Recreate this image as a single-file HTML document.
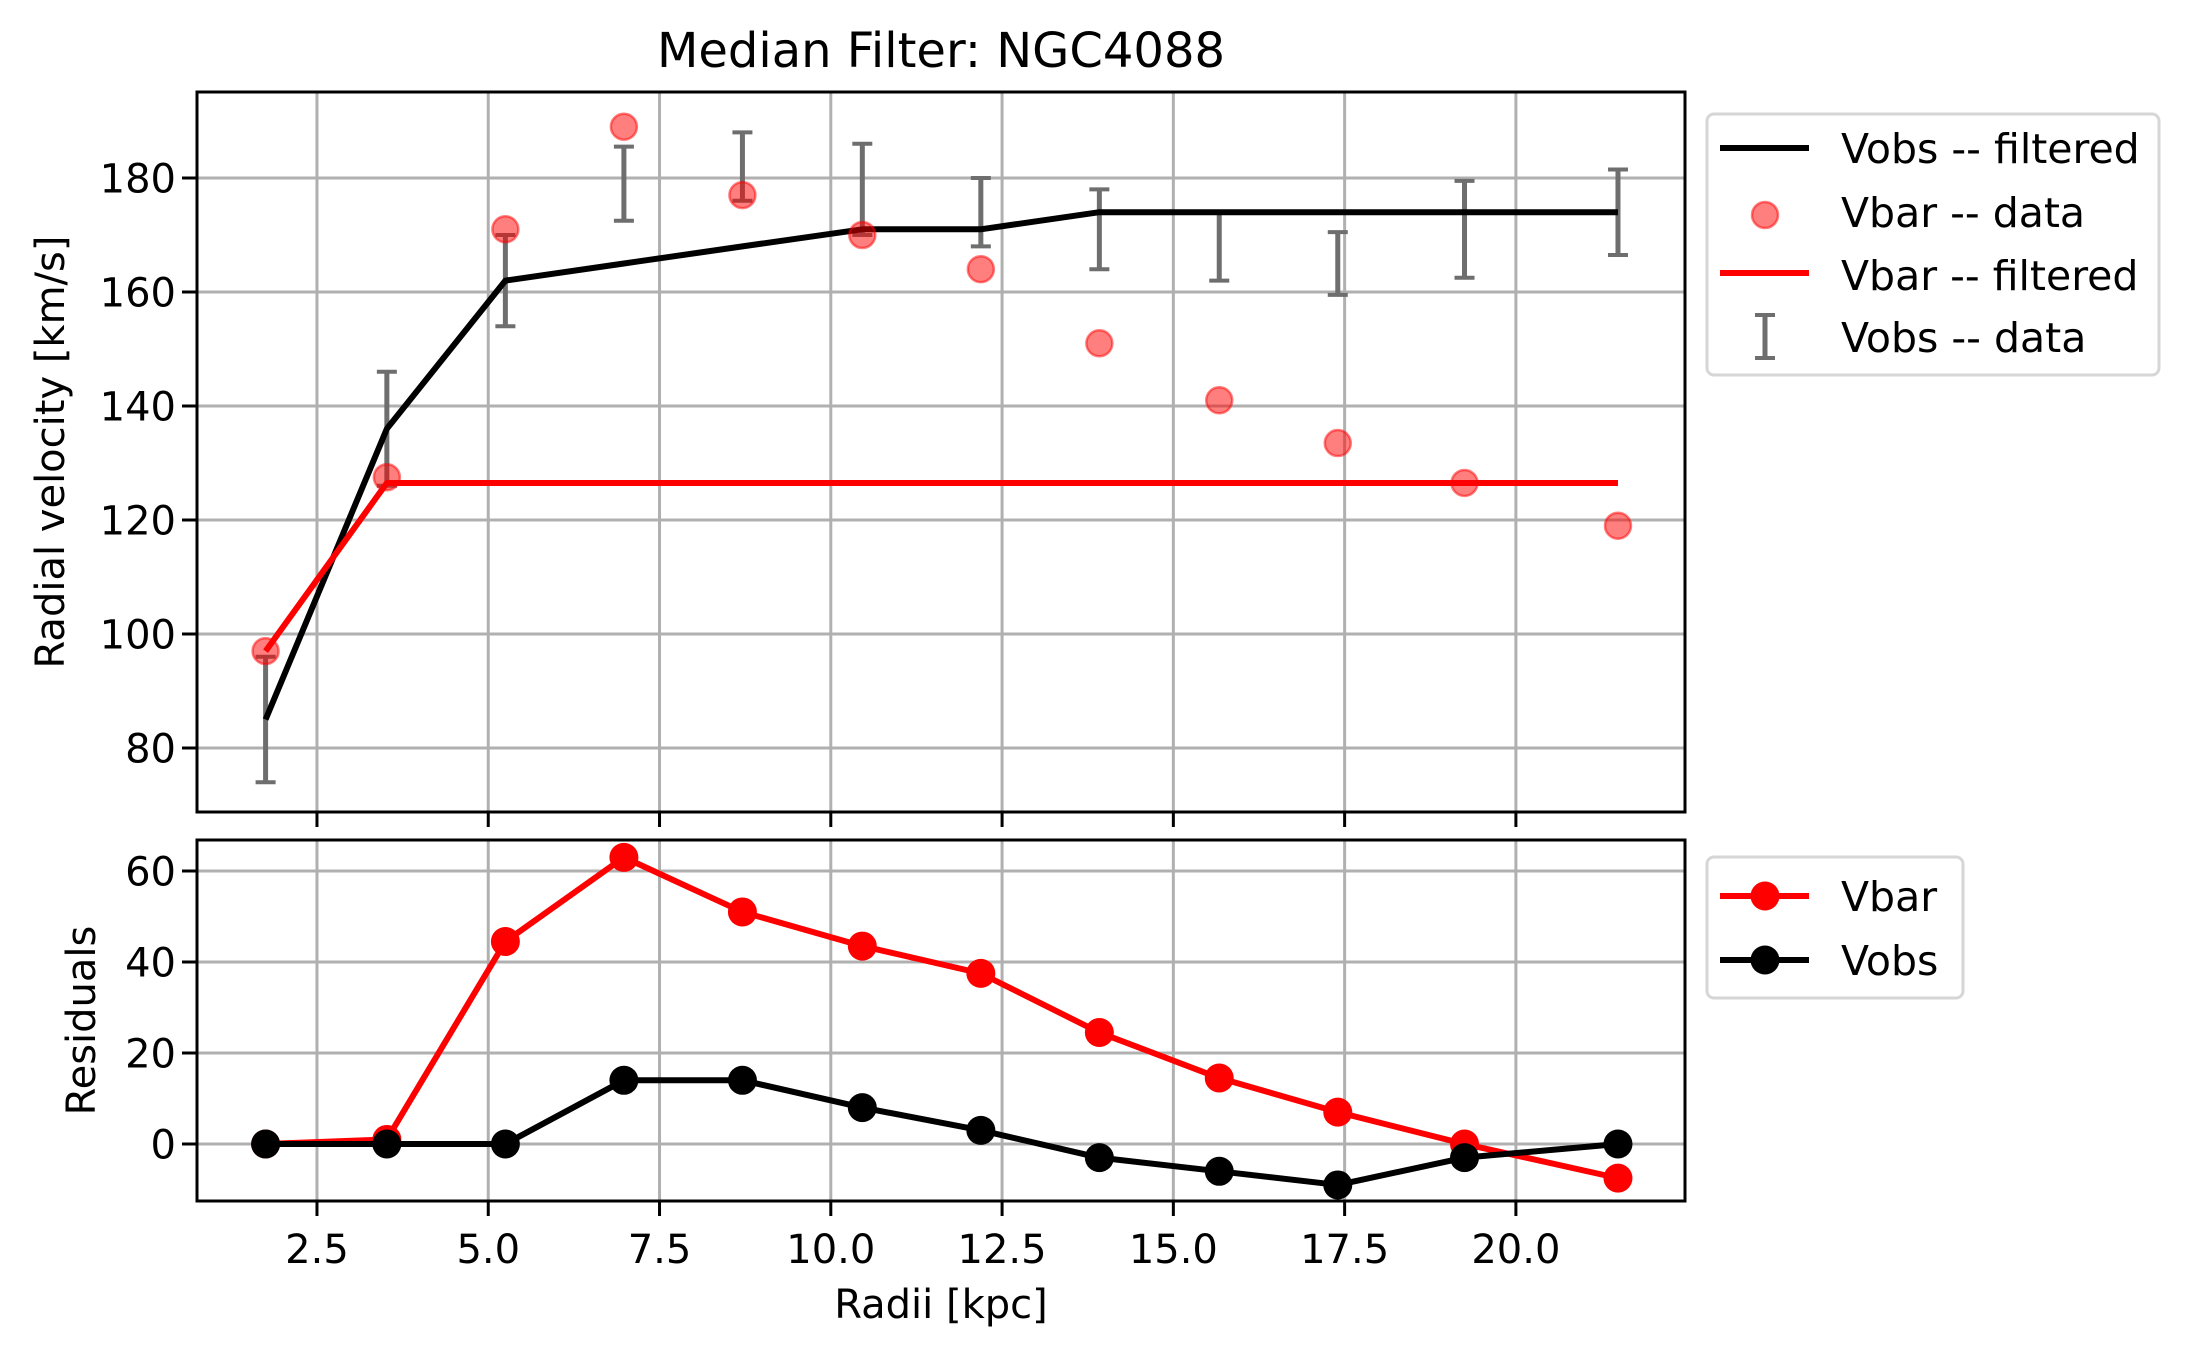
<!DOCTYPE html>
<html><head><meta charset="utf-8"><style>
html,body{margin:0;padding:0;background:#fff}
svg{display:block;font-family:"DejaVu Sans","Liberation Sans",sans-serif}
</style></head><body>
<svg id="chart" width="2189" height="1361" viewBox="0 0 2189 1361" xmlns="http://www.w3.org/2000/svg">
<g id="g"></g>
</svg>
<script>
const radii=[1.75,3.52,5.25,6.98,8.71,10.46,12.19,13.92,15.67,17.40,19.25,21.49];
const vobsFiltered=[85,136,162,165,168,171,171,174,174,174,174,174];
const vobsData=[85,136,162,179,182,178,174,171,168,165,171,174];
const vobsErr=[11,10,8,6.5,6,8,6,7,6,5.5,8.5,7.5];
const vbarData=[97,127.5,171,189,177,170,164,151,141,133.5,126.5,119];
const vbarFiltered=[97,126.5,126.5,126.5,126.5,126.5,126.5,126.5,126.5,126.5,126.5,126.5];
const resVbar=[0,1,44.5,63,51,43.5,37.5,24.5,14.5,7,0,-7.5];
const resVobs=[0,0,0,14,14,8,3,-3,-6,-9,-3,0];
const xTicks=[2.5,5.0,7.5,10.0,12.5,15.0,17.5,20.0];
const yTopTicks=[80,100,120,140,160,180];
const yBotTicks=[0,20,40,60];

const NS="http://www.w3.org/2000/svg";
const g=document.getElementById('g');
function el(t,a,txt,name){const e=document.createElementNS(NS,t);for(const k in a)e.setAttribute(k,a[k]);if(txt!==undefined)e.textContent=txt;


g.appendChild(e);return e;}
const L=197,R=1685,T1=92,B1=812,T2=840,B2=1201;
const X=v=>145.7+v*68.51;
const Y1=v=>178-(v-180)*5.7;
const Y2=v=>1144-v*4.55;
const FS=40;

el('text',{x:941,y:67,'text-anchor':'middle','font-size':48},'Median Filter: NGC4088','chart-title');
xTicks.forEach(t=>{
 el('line',{x1:X(t),x2:X(t),y1:T1,y2:B1,stroke:'#b0b0b0','stroke-width':3},undefined,'x-grid-top');
 el('line',{x1:X(t),x2:X(t),y1:T2,y2:B2,stroke:'#b0b0b0','stroke-width':3},undefined,'x-grid-bottom');
 el('line',{x1:X(t),x2:X(t),y1:B1,y2:B1+15,stroke:'#000','stroke-width':3},undefined,'x-tick-top');
 el('line',{x1:X(t),x2:X(t),y1:B2,y2:B2+15,stroke:'#000','stroke-width':3},undefined,'x-tick');
 el('text',{x:X(t),y:1263,'text-anchor':'middle','font-size':FS},t.toFixed(1),'x-tick-label');
});
yTopTicks.forEach(t=>{
 el('line',{x1:L,x2:R,y1:Y1(t),y2:Y1(t),stroke:'#b0b0b0','stroke-width':3},undefined,'y-grid-top');
 el('line',{x1:L-15,x2:L,y1:Y1(t),y2:Y1(t),stroke:'#000','stroke-width':3},undefined,'y-tick-top');
 el('text',{x:L-21,y:Y1(t)+14.5,'text-anchor':'end','font-size':FS},t,'y-tick-label-top');
});
yBotTicks.forEach(t=>{
 el('line',{x1:L,x2:R,y1:Y2(t),y2:Y2(t),stroke:'#b0b0b0','stroke-width':3},undefined,'y-grid-bottom');
 el('line',{x1:L-15,x2:L,y1:Y2(t),y2:Y2(t),stroke:'#000','stroke-width':3},undefined,'y-tick-bottom');
 el('text',{x:L-21,y:Y2(t)+14.5,'text-anchor':'end','font-size':FS},t,'y-tick-label-bottom');
});
el('text',{x:64,y:(T1+B1)/2,'text-anchor':'middle','font-size':FS,transform:`rotate(-90 64 ${(T1+B1)/2})`},'Radial velocity [km/s]','y-axis-title-top');
el('text',{x:95,y:(T2+B2)/2,'text-anchor':'middle','font-size':FS,transform:`rotate(-90 95 ${(T2+B2)/2})`},'Residuals','y-axis-title-bottom');
el('text',{x:941,y:1318,'text-anchor':'middle','font-size':FS},'Radii [kpc]','x-axis-title');

const pts=(ys,Y)=>radii.map((r,i)=>X(r)+','+Y(ys[i])).join(' ');
radii.forEach((r,i)=>{
 const a=Y1(vobsData[i]-vobsErr[i]),b=Y1(vobsData[i]+vobsErr[i]),x=X(r);
 el('line',{x1:x,x2:x,y1:a,y2:b,stroke:'#6e6e6e','stroke-width':5},undefined,'vobs-errorbar');
 el('line',{x1:x-10,x2:x+10,y1:a,y2:a,stroke:'#6e6e6e','stroke-width':4},undefined,'vobs-errorcap');
 el('line',{x1:x-10,x2:x+10,y1:b,y2:b,stroke:'#6e6e6e','stroke-width':4},undefined,'vobs-errorcap');
});
el('polyline',{points:pts(vobsFiltered,Y1),fill:'none',stroke:'#000','stroke-width':6,'stroke-linejoin':'round'},undefined,'vobs-filtered-line');
el('polyline',{points:pts(vbarFiltered,Y1),fill:'none',stroke:'#f00','stroke-width':6,'stroke-linejoin':'round'},undefined,'vbar-filtered-line');
radii.forEach((r,i)=>el('circle',{cx:X(r),cy:Y1(vbarData[i]),r:13,fill:'rgba(255,0,0,0.5)',stroke:'rgba(255,0,0,0.5)','stroke-width':2.5},undefined,'vbar-data-point'));

el('polyline',{points:pts(resVbar,Y2),fill:'none',stroke:'#f00','stroke-width':6,'stroke-linejoin':'round'},undefined,'residual-vbar-line');
radii.forEach((r,i)=>el('circle',{cx:X(r),cy:Y2(resVbar[i]),r:14.5,fill:'#f00'},undefined,'residual-vbar-point'));
el('polyline',{points:pts(resVobs,Y2),fill:'none',stroke:'#000','stroke-width':6,'stroke-linejoin':'round'},undefined,'residual-vobs-line');
radii.forEach((r,i)=>el('circle',{cx:X(r),cy:Y2(resVobs[i]),r:14.5,fill:'#000'},undefined,'residual-vobs-point'));

el('rect',{x:L,y:T1,width:R-L,height:B1-T1,fill:'none',stroke:'#000','stroke-width':3},undefined,'top-axes-frame');
el('rect',{x:L,y:T2,width:R-L,height:B2-T2,fill:'none',stroke:'#000','stroke-width':3},undefined,'bottom-axes-frame');

el('rect',{x:1707,y:114,width:452,height:261,rx:7,fill:'#fff',stroke:'#d6d6d6','stroke-width':3},undefined,'top-legend');
el('line',{x1:1720,x2:1809,y1:148,y2:148,stroke:'#000','stroke-width':6},undefined,'legend-vobs-filtered-line');
el('text',{x:1841,y:163,'font-size':41},'Vobs -- filtered','legend-vobs-filtered');
el('circle',{cx:1765,cy:215,r:13,fill:'rgba(255,0,0,0.5)',stroke:'rgba(255,0,0,0.5)','stroke-width':2.5},undefined,'legend-vbar-data-marker');
el('text',{x:1841,y:227,'font-size':41},'Vbar -- data','legend-vbar-data');
el('line',{x1:1720,x2:1809,y1:273,y2:273,stroke:'#f00','stroke-width':6},undefined,'legend-vbar-filtered-line');
el('text',{x:1841,y:290,'font-size':41},'Vbar -- filtered','legend-vbar-filtered');
el('line',{x1:1765,x2:1765,y1:315,y2:358,stroke:'#6e6e6e','stroke-width':5},undefined,'legend-vobs-data-bar');
el('line',{x1:1755,x2:1775,y1:315,y2:315,stroke:'#6e6e6e','stroke-width':4},undefined,'legend-vobs-data-cap');
el('line',{x1:1755,x2:1775,y1:358,y2:358,stroke:'#6e6e6e','stroke-width':4},undefined,'legend-vobs-data-cap');
el('text',{x:1841,y:352,'font-size':41},'Vobs -- data','legend-vobs-data');

el('rect',{x:1707,y:857,width:256,height:141,rx:7,fill:'#fff',stroke:'#d6d6d6','stroke-width':3},undefined,'bottom-legend');
el('line',{x1:1720,x2:1809,y1:896,y2:896,stroke:'#f00','stroke-width':6},undefined,'legend-vbar-line');
el('circle',{cx:1765,cy:896,r:14.5,fill:'#f00'},undefined,'legend-vbar-marker');
el('text',{x:1841,y:911,'font-size':41},'Vbar','legend-vbar');
el('line',{x1:1720,x2:1809,y1:960,y2:960,stroke:'#000','stroke-width':6},undefined,'legend-vobs-line');
el('circle',{cx:1765,cy:960,r:14.5,fill:'#000'},undefined,'legend-vobs-marker');
el('text',{x:1841,y:975,'font-size':41},'Vobs','legend-vobs');
</script>
</body></html>
